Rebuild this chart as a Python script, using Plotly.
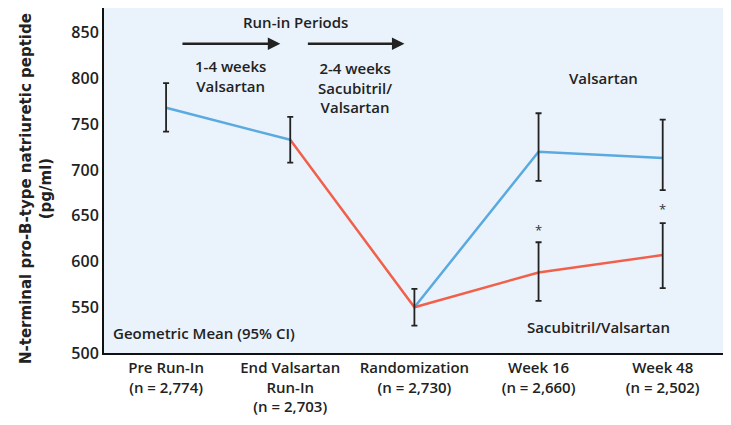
import plotly.graph_objects as go

categories = ["Pre Run-In<br>(n = 2,774)", "End Valsartan<br>Run-In<br>(n = 2,703)",
              "Randomization<br>(n = 2,730)", "Week 16<br>(n = 2,660)", "Week 48<br>(n = 2,502)"]
xi = [0, 1, 2, 3, 4]

# Valsartan (blue) series: run-in then randomized arm
val_runin_x = [0, 1]
val_runin_y = [768, 733]
val_arm_x = [2, 3, 4]
val_arm_y = [550, 720, 713]
# Sacubitril/Valsartan (red)
sac_x = [1, 2, 3, 4]
sac_y = [733, 550, 588, 607]

# Error bars (95% CI)
err_x = [0, 1, 2, 3, 4, 3, 4]
err_mid = [768, 733, 550, 720, 713, 588, 607]
err_hi = [795, 758, 570, 762, 755, 621, 642]
err_lo = [742, 708, 530, 688, 678, 557, 571]

ast_x = [3, 4]
ast_y = [632, 655]

FONT = "Open Sans, Roboto, sans-serif"
BLUE = "#5AAAE0"
RED = "#F0604A"
TXT = "#222"

fig = go.Figure()
fig.add_trace(go.Scatter(x=val_runin_x, y=val_runin_y, mode="lines",
                         line=dict(color=BLUE, width=2.5), showlegend=False))
fig.add_trace(go.Scatter(x=val_arm_x, y=val_arm_y, mode="lines",
                         line=dict(color=BLUE, width=2.5), showlegend=False))
fig.add_trace(go.Scatter(x=sac_x, y=sac_y, mode="lines",
                         line=dict(color=RED, width=2.5), showlegend=False))
fig.add_trace(go.Scatter(
    x=err_x, y=err_mid, mode="markers", marker=dict(size=1, color="rgba(0,0,0,0)"),
    error_y=dict(type="data", symmetric=False,
                 array=[h - m for h, m in zip(err_hi, err_mid)],
                 arrayminus=[m - l for m, l in zip(err_mid, err_lo)],
                 color="#222", thickness=1.8, width=3),
    showlegend=False))
fig.add_trace(go.Scatter(x=ast_x, y=ast_y, mode="text", text=["*", "*"],
                         textfont=dict(size=13, color="#333", family=FONT), showlegend=False))

anns = [
    dict(x=1.04, y=862, text="Run-in Periods"),
    dict(x=0.515, y=803, text="1-4 weeks<br>Valsartan"),
    dict(x=1.52, y=790, text="2-4 weeks<br>Sacubitril/<br>Valsartan"),
    dict(x=3.52, y=801, text="Valsartan"),
    dict(x=3.48, y=528, text="Sacubitril/Valsartan"),
]
for a in anns:
    fig.add_annotation(x=a["x"], y=a["y"], text=a["text"], showarrow=False,
                       font=dict(family=FONT, size=15, color=TXT, weight=600),
                       xref="x", yref="y")
fig.add_annotation(x=-0.44, y=522, text="Geometric Mean (95% CI)", showarrow=False,
                   xanchor="left", font=dict(family=FONT, size=15, color=TXT, weight=600))
for x0, x1 in [(0.12, 0.92), (1.13, 1.92)]:
    fig.add_annotation(x=x1, y=838, ax=x0, ay=838, xref="x", yref="y", axref="x", ayref="y",
                       text="", showarrow=True, arrowhead=2, arrowsize=1, arrowwidth=2.5,
                       arrowcolor="#222")

# y-axis title as rotated annotation
fig.add_annotation(
    x=-68 / 627, y=164 / 345, xref="paper", yref="paper",
    text="<b>N-terminal pro-B-type natriuretic peptide<br>(pg/ml)</b>",
    textangle=-90, showarrow=False, xanchor="center", yanchor="middle",
    font=dict(family="DejaVu Sans, Liberation Sans, sans-serif", size=15, color=TXT))

fig.update_layout(
    width=731, height=425,
    margin=dict(l=96, r=8, t=0, b=80, autoexpand=False),
    paper_bgcolor="white", plot_bgcolor="#EAF2FB",
    font=dict(family=FONT, size=15, color=TXT),
    xaxis=dict(range=[-0.5, 4.55], tickvals=xi, ticktext=categories, showgrid=False,
               zeroline=False, showline=True, linecolor="#111", linewidth=2,
               tickfont=dict(size=15, family=FONT, weight=600), ticks="", automargin=False),
    yaxis=dict(range=[500, 877], tickvals=[500, 550, 600, 650, 700, 750, 800, 850],
               showgrid=False, zeroline=False, showline=True, linecolor="#111", linewidth=2,
               tickfont=dict(size=16, family=FONT, weight=600), ticks="", automargin=False),
)

fig.write_html("out.html")
